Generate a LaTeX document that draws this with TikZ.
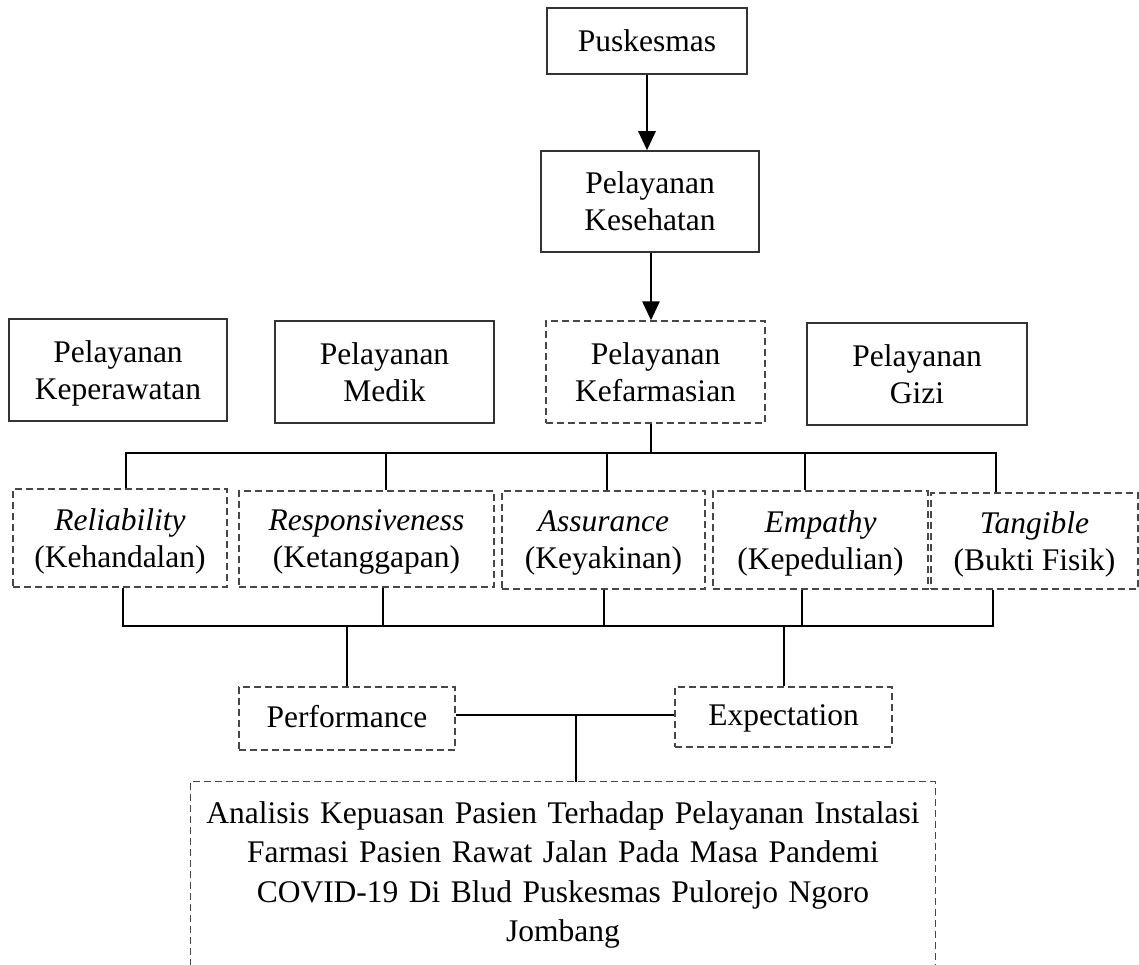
\documentclass[tikz,border=0pt]{standalone}
\usepackage{fontspec}
\setmainfont{Liberation Serif}
\usetikzlibrary{arrows.meta,calc}
\begin{document}
\begin{tikzpicture}[x=1pt,y={(0pt,-1pt)},
  every node/.style={align=center,inner sep=0pt,font=\fontsize{31.5}{37}\selectfont},
  sbox/.style={draw=black!80,line width=1.5pt},
  dbox/.style={draw=black!72,line width=1.3pt,dash pattern=on 7pt off 4pt},
  twoline/.style={text depth=0pt},
  oneline/.style={text height=22pt,text depth=5pt},
  conn/.style={line width=2.8pt,black},
  arr/.style={conn,-{Triangle[width=17pt,length=19pt]}}]
\useasboundingbox (0,0) rectangle (1139,965);
% top chain
\node[sbox,minimum width=200pt,minimum height=66pt] (pusk) at (647,41) {Puskesmas};
\node[sbox,twoline,minimum width=218pt,minimum height=101pt] (kes) at (650,201.5) {Pelayanan\\Kesehatan};
% services
\node[sbox,twoline,minimum width=218pt,minimum height=102pt] (kep) at (118,370) {Pelayanan\\Keperawatan};
\node[sbox,twoline,minimum width=219pt,minimum height=102pt] (med) at (384.5,372) {Pelayanan\\Medik};
\node[dbox,twoline,minimum width=219pt,minimum height=102pt] (far) at (655.5,372) {Pelayanan\\Kefarmasian};
\node[sbox,twoline,minimum width=220pt,minimum height=102pt] (gizi) at (917,374) {Pelayanan\\Gizi};
\draw[arr] (pusk.south -| 647,0) -- (kes.north -| 647,0);
\draw[arr] (kes.south -| 651,0) -- (far.north -| 651,0);
% dimensions
\node[dbox,twoline,minimum width=214pt,minimum height=98pt] (rel) at (120,538) {\textit{Reliability}\\(Kehandalan)};
\node[dbox,twoline,minimum width=255pt,minimum height=96pt] (res) at (366.5,539) {\textit{Responsiveness}\\(Ketanggapan)};
\node[dbox,twoline,minimum width=203pt,minimum height=98pt] (ass) at (603.5,540) {\textit{Assurance}\\(Keyakinan)};
\node[dbox,twoline,minimum width=215pt,minimum height=98pt] (emp) at (820.5,540) {\textit{Empathy}\\(Kepedulian)};
\node[dbox,twoline,minimum width=207pt,minimum height=96pt] (tan) at (1034.5,541) {\textit{Tangible}\\(Bukti Fisik)};
% upper bus
\coordinate (t0) at (651,453);
\coordinate (t1) at (126,453);
\coordinate (t2) at (386,453);
\coordinate (t3) at (607,453);
\coordinate (t4) at (805,453);
\coordinate (t5) at (996,453);
\draw[conn] (far.south -| t0) -- (t0);
\draw[conn,line cap=rect] (t1) -- (t5);
\draw[conn] (t1) -- (t1 |- rel.north);
\draw[conn] (t2) -- (t2 |- res.north);
\draw[conn] (t3) -- (t3 |- ass.north);
\draw[conn] (t4) -- (t4 |- emp.north);
\draw[conn] (t5) -- (t5 |- tan.north);
% lower bus
\coordinate (l1) at (123,626);
\coordinate (l2) at (383,626);
\coordinate (l3) at (604,626);
\coordinate (l4) at (802,626);
\coordinate (l5) at (993,626);
\draw[conn,line cap=rect] (l1) -- (l5);
\draw[conn] (rel.south -| l1) -- (l1);
\draw[conn] (res.south -| l2) -- (l2);
\draw[conn] (ass.south -| l3) -- (l3);
\draw[conn] (emp.south -| l4) -- (l4);
\draw[conn] (tan.south -| l5) -- (l5);
% performance / expectation
\node[dbox,oneline,minimum width=216pt,minimum height=63pt] (perf) at (347,718.5) {Performance};
\node[dbox,oneline,minimum width=217pt,minimum height=60pt] (exp) at (783.5,717) {Expectation};
\coordinate (pb) at (347,626);
\coordinate (eb) at (784,626);
\draw[conn] (pb) -- (pb |- perf.north);
\draw[conn] (eb) -- (eb |- exp.north);
\coordinate (m) at (576,715);
\draw[conn] (m -| perf.east) -- (m -| exp.west);
% analysis
\node[minimum width=744pt,minimum height=186pt,text width=744pt,font=\fontsize{31.5}{39.5}\selectfont] (ana) at (563,875)
  {Analisis Kepuasan Pasien Terhadap Pelayanan Instalasi\\Farmasi Pasien Rawat Jalan Pada Masa Pandemi\\COVID-19 Di Blud Puskesmas Pulorejo Ngoro\\Jombang};
\draw[dbox] ($(ana.south west)+(0,20)$) -- (ana.north west) -- (ana.north east) -- ($(ana.south east)+(0,20)$);
\draw[conn] (m) -- (m |- ana.north);
\end{tikzpicture}
\end{document}
